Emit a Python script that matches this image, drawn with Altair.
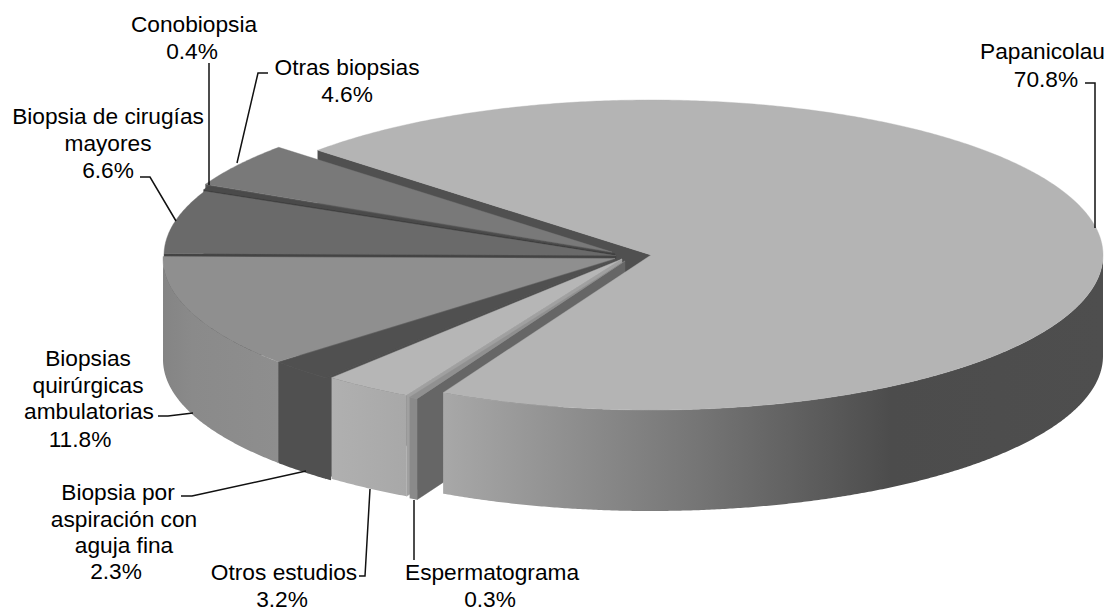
import numpy as np
import pandas as pd
import altair as alt

# ---- chart values -------------------------------------------------------
categories = ["Papanicolau", "Espermatograma", "Otros estudios",
              "Biopsia por aspiración con aguja fina",
              "Biopsias quirúrgicas ambulatorias",
              "Biopsia de cirugías mayores", "Conobiopsia", "Otras biopsias"]
shares = [70.8, 0.3, 3.2, 2.3, 11.8, 6.6, 0.4, 4.6]

# ---- label text ---------------------------------------------------------
label_lines = ["Papanicolau", "70.8%", "Conobiopsia", "0.4%", "Otras biopsias", "4.6%",
               "Biopsia de cirugías", "mayores", "6.6%",
               "Biopsias", "quirúrgicas", "ambulatorias", "11.8%",
               "Biopsia por", "aspiración con", "aguja fina", "2.3%",
               "Otros estudios", "3.2%", "Espermatograma", "0.3%"]

# ---- layout and style (separate from the values) ------------------------
W, H = 1097, 606
label_x = [1042.5, 1046, 194, 192, 347, 347, 108, 108, 108, 88, 88, 89, 80,
           118, 124, 124, 116, 284, 282, 492, 490]
label_y = [52, 80, 25, 52, 68, 95, 117, 144, 171, 359, 386, 412, 440,
           493, 520, 546, 572, 573, 600, 573, 600]
FONT_SIZE = 22.7
A, B, DEPTH = 452, 155, 101
START = 222.5
centers = [(651, 255), (625, 261), (622, 259), (616, 259), (615, 258.5),
           (616, 255.5), (615, 254), (612, 252)]
top_colors = ["#b4b4b4", "#909090", "#b6b6b6", "#505050", "#8f8f8f",
              "#6a6a6a", "#4a4a4a", "#797979"]
radial_colors = ["#505050", "#666666", "#a0a0a0", "#505050", "#707070",
                 "#444444", "#3a3a3a", "#555555"]
leaders = [
    [(1085, 83), (1095, 83), (1095, 228)],
    [(268, 73), (258, 73), (237, 163)],
    [(209, 63), (209, 185)],
    [(140, 177), (150, 177), (176, 221)],
    [(158, 416), (168, 416), (193, 413)],
    [(181, 496), (192, 496), (306, 471)],
    [(359, 576), (365, 576), (370, 489)],
    [(414, 500), (414, 560)],
]

X = alt.X("x:Q", scale=alt.Scale(domain=[8, 8 + W], nice=False, zero=False), axis=None)
Y = alt.Y("y:Q", scale=alt.Scale(domain=[8 + H, 8], nice=False, zero=False), axis=None)
Y2 = alt.Y2("y2:Q")


def rim(i, t):
    cx, cy = centers[i]
    r = np.radians(t)
    return cx + A * np.cos(r), cy + B * np.sin(r)


def polygon(xs, ys, color):
    df = pd.DataFrame({"x": xs, "y": ys, "i": range(len(xs))})
    return alt.Chart(df).mark_line(fill=color, stroke=color, strokeWidth=0.4).encode(
        x=X, y=Y, order="i:Q")


def top(i, t0, t1):
    ts = np.linspace(t0, t1, max(4, int(abs(t1 - t0) * 2)))
    px, py = rim(i, ts)
    cx, cy = centers[i]
    return polygon([cx, *px, cx], [cy, *py, cy], top_colors[i])


def radial(i, t):
    cx, cy = centers[i]
    px, py = rim(i, t)
    return polygon([cx, px, px, cx, cx], [cy, py, py + DEPTH, cy + DEPTH, cy], radial_colors[i])


def wall(i, t0, t1, stops):
    ts = np.linspace(t0, t1, max(4, int(abs(t1 - t0) * 3)))
    px, py = rim(i, ts)
    df = pd.DataFrame({"x": px, "y": py, "y2": py + DEPTH})
    grad = alt.LinearGradient(
        gradient="linear", x1=0, x2=1, y1=0, y2=0,
        stops=[alt.GradientStop(color=c, offset=o) for o, c in stops])
    return alt.Chart(df).mark_area(color=grad).encode(x=X, y=Y, y2=Y2)


# slice angles follow from the shares, clockwise from START
ang = [START]
for s in shares:
    ang.append(ang[-1] + s / sum(shares) * 360)
main0, main1 = ang[0], ang[1]
a = {k: (ang[k] - 360, ang[k + 1] - 360) for k in range(1, 8)}

layers = [radial(0, main0)]                       # main slice cut face (back)
layers += [radial(7, a[7][0]), top(7, *a[7])]     # Otras biopsias
layers += [radial(6, a[6][0]), top(6, *a[6])]     # Conobiopsia
layers += [radial(5, a[5][0]), top(5, *a[5])]     # Cirugías mayores
layers += [wall(4, a[4][0], 180, [(0, "#848484"), (0.25, "#8a8a8a"), (1, "#8e8e8e")]),
           radial(4, a[4][0]), top(4, *a[4])]     # Quirúrgicas
layers += [radial(3, a[3][0]),
           wall(3, a[3][0] - 0.9, a[3][1], [(0, "#505050"), (1, "#505050")]), top(3, *a[3])]
layers += [radial(2, a[2][0]),
           wall(2, *a[2], [(0, "#b0b0b0"), (1, "#a8a8a8")]), top(2, *a[2])]
layers += [radial(1, a[1][0]),
           wall(1, *a[1], [(0, "#8a8a8a"), (1, "#8a8a8a")]), top(1, *a[1])]
layers += [wall(0, 0, main1 - 360,
                [(0, "#a8a8a8"), (0.38, "#767676"), (0.68, "#4c4c4c"), (1, "#4e4e4e")]),
           top(0, main0, main1)]

for path in leaders:
    df = pd.DataFrame({"x": [p[0] for p in path], "y": [p[1] for p in path],
                       "i": range(len(path))})
    layers.append(alt.Chart(df).mark_line(color="#111111", strokeWidth=1.5).encode(
        x=X, y=Y, order="i:Q"))

labels = pd.DataFrame({"x": label_x, "y": label_y, "t": label_lines})
layers.append(alt.Chart(labels).mark_text(
    font="Liberation Sans", fontSize=FONT_SIZE, color="#000000", align="center", baseline="middle"
).encode(x=X, y=Y, text="t:N"))

chart = alt.layer(*layers).properties(
    width=W, height=H, padding=0, autosize=alt.AutoSizeParams(type="none"), background="white"
).configure_view(stroke=None)

chart.save("out.html", embed_options={"renderer": "svg", "actions": False})
